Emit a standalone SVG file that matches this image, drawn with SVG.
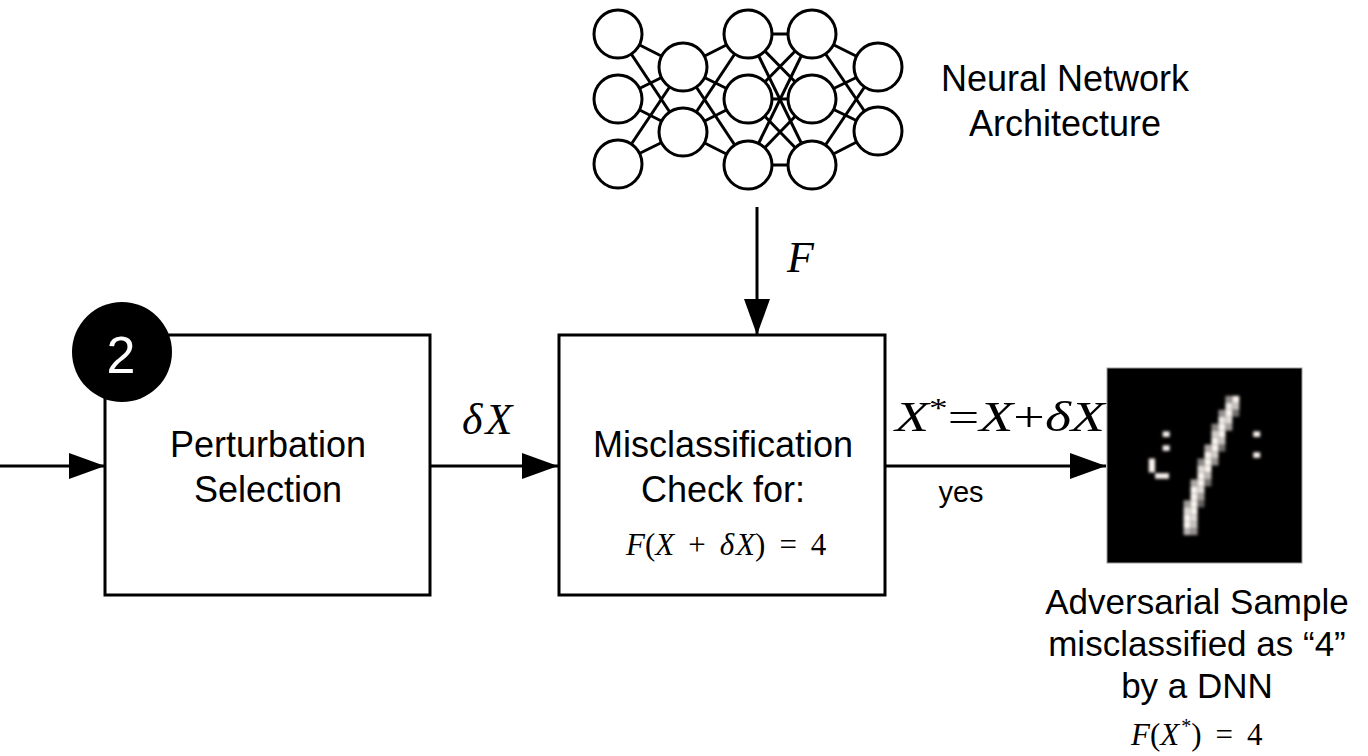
<svg xmlns="http://www.w3.org/2000/svg" width="1368" height="756" viewBox="0 0 1368 756">
  <style>
    .box { fill: #fff; stroke: #000; stroke-width: 3; }
    .neuron { fill: #fff; stroke: #000; stroke-width: 3; }
    .syn { stroke: #000; stroke-width: 3; }
    .wire { stroke: #000; stroke-width: 3; fill: none; }
    .sans { font-family: "Liberation Sans", Arial, sans-serif; fill: #000; }
    .math { font-family: "Liberation Serif", "Times New Roman", serif; fill: #000; }
    .it { font-style: italic; }
    .px { fill: #fbf4f0; }
  </style>
  <defs>
    <marker id="arrow" viewBox="0 0 36 26" refX="36" refY="13" markerWidth="36" markerHeight="26" markerUnits="userSpaceOnUse" orient="auto">
      <path d="M0,0 L36,13 L0,26 Z" fill="#000"/>
    </marker>
    <filter id="soft" x="-10%" y="-10%" width="120%" height="120%">
      <feGaussianBlur stdDeviation="0.2"/>
    </filter>
  </defs>

  <!-- Neural network architecture icon -->
  <g id="network">
    <g class="syn">
      <!-- layer 1 -> layer 2 -->
      <line x1="618" y1="34" x2="683" y2="67"/><line x1="618" y1="34" x2="683" y2="132"/>
      <line x1="618" y1="99" x2="683" y2="67"/><line x1="618" y1="99" x2="683" y2="132"/>
      <line x1="618" y1="164" x2="683" y2="67"/><line x1="618" y1="164" x2="683" y2="132"/>
      <!-- layer 2 -> layer 3 -->
      <line x1="683" y1="67" x2="748" y2="34"/><line x1="683" y1="67" x2="748" y2="99"/><line x1="683" y1="67" x2="748" y2="165"/>
      <line x1="683" y1="132" x2="748" y2="34"/><line x1="683" y1="132" x2="748" y2="99"/><line x1="683" y1="132" x2="748" y2="165"/>
      <!-- layer 3 -> layer 4 -->
      <line x1="748" y1="34" x2="812" y2="34"/><line x1="748" y1="34" x2="812" y2="99"/><line x1="748" y1="34" x2="812" y2="165"/>
      <line x1="748" y1="99" x2="812" y2="34"/><line x1="748" y1="99" x2="812" y2="99"/><line x1="748" y1="99" x2="812" y2="165"/>
      <line x1="748" y1="165" x2="812" y2="34"/><line x1="748" y1="165" x2="812" y2="99"/><line x1="748" y1="165" x2="812" y2="165"/>
      <!-- layer 4 -> layer 5 -->
      <line x1="812" y1="34" x2="878" y2="67"/><line x1="812" y1="34" x2="878" y2="131"/>
      <line x1="812" y1="99" x2="878" y2="67"/><line x1="812" y1="99" x2="878" y2="131"/>
      <line x1="812" y1="165" x2="878" y2="67"/><line x1="812" y1="165" x2="878" y2="131"/>
    </g>
    <g class="neuron">
      <circle cx="618" cy="34" r="24"/><circle cx="618" cy="99" r="24"/><circle cx="618" cy="164" r="24"/>
      <circle cx="683" cy="67" r="24"/><circle cx="683" cy="132" r="24"/>
      <circle cx="748" cy="34" r="24"/><circle cx="748" cy="99" r="24"/><circle cx="748" cy="165" r="24"/>
      <circle cx="812" cy="34" r="24"/><circle cx="812" cy="99" r="24"/><circle cx="812" cy="165" r="24"/>
      <circle cx="878" cy="67" r="24"/><circle cx="878" cy="131" r="24"/>
    </g>
    <text class="sans" font-size="36" text-anchor="middle" x="1065" y="91">Neural Network</text>
    <text class="sans" font-size="36" text-anchor="middle" x="1065" y="136">Architecture</text>
  </g>

  <!-- Connectors -->
  <g id="connectors">
    <line class="wire" x1="0" y1="466" x2="105" y2="466" marker-end="url(#arrow)"/>
    <line class="wire" x1="430" y1="466" x2="558" y2="466" marker-end="url(#arrow)"/>
    <line class="wire" x1="885" y1="466" x2="1106" y2="466" marker-end="url(#arrow)"/>
    <line class="wire" x1="757" y1="207" x2="757" y2="335" marker-end="url(#arrow)"/>
    <text class="math it" font-size="44" x="787" y="272">F</text>
    <text class="math it" font-size="44" x="462" y="434">δ<tspan dx="3">X</tspan></text>
    <text class="math" font-size="42" x="895" y="431" textLength="210" lengthAdjust="spacingAndGlyphs"><tspan class="it">X</tspan><tspan font-size="28" dy="-14">*</tspan><tspan dy="14">=</tspan><tspan class="it">X</tspan>+<tspan class="it">δX</tspan></text>
    <text class="sans" font-size="29" text-anchor="middle" x="961" y="502">yes</text>
  </g>

  <!-- Step 2: perturbation selection -->
  <g id="perturbation">
    <rect class="box" x="105" y="335" width="325" height="260"/>
    <text class="sans" font-size="36" text-anchor="middle" x="268" y="457">Perturbation</text>
    <text class="sans" font-size="36" text-anchor="middle" x="268" y="502">Selection</text>
  </g>
  <g id="step-badge">
    <circle cx="122" cy="352" r="50" fill="#000"/>
    <text class="sans" font-size="52" text-anchor="middle" x="121" y="373" style="fill:#fff">2</text>
  </g>

  <!-- Misclassification check -->
  <g id="check">
    <rect class="box" x="559" y="335" width="326" height="260"/>
    <text class="sans" font-size="36" text-anchor="middle" x="723" y="457">Misclassification</text>
    <text class="sans" font-size="36" text-anchor="middle" x="723" y="502">Check for:</text>
    <text class="math" font-size="31" x="626" y="555"><tspan class="it">F</tspan>(<tspan class="it">X</tspan><tspan dx="14">+</tspan><tspan class="it" dx="14">δ</tspan><tspan class="it" dx="2">X</tspan>)<tspan dx="14">=</tspan><tspan dx="14">4</tspan></text>
  </g>

  <!-- Adversarial sample: 28x28 digit image -->
  <g id="sample">
    <rect x="1107" y="368" width="195" height="195" fill="#000" stroke="#9a9a9a" stroke-width="1"/>
    <g transform="translate(1107,368) scale(6.964)" filter="url(#soft)">
      <!-- stroke of the digit -->
      <rect class="px" x="17" y="4" width="1" height="1" opacity="0.6"/><rect class="px" x="18" y="4" width="1" height="1" opacity="1"/>
      <rect class="px" x="17" y="5" width="1" height="1" opacity="0.95"/><rect class="px" x="18" y="5" width="1" height="1" opacity="0.8"/>
      <rect class="px" x="16" y="6" width="1" height="1" opacity="0.6"/><rect class="px" x="17" y="6" width="1" height="1" opacity="1"/><rect class="px" x="18" y="6" width="1" height="1" opacity="0.45"/>
      <rect class="px" x="16" y="7" width="1" height="1" opacity="0.95"/><rect class="px" x="17" y="7" width="1" height="1" opacity="0.9"/>
      <rect class="px" x="15" y="8" width="1" height="1" opacity="0.55"/><rect class="px" x="16" y="8" width="1" height="1" opacity="1"/><rect class="px" x="17" y="8" width="1" height="1" opacity="0.65"/>
      <rect class="px" x="15" y="9" width="1" height="1" opacity="0.85"/><rect class="px" x="16" y="9" width="1" height="1" opacity="1"/>
      <rect class="px" x="15" y="10" width="1" height="1" opacity="1"/><rect class="px" x="16" y="10" width="1" height="1" opacity="0.8"/>
      <rect class="px" x="14" y="11" width="1" height="1" opacity="0.7"/><rect class="px" x="15" y="11" width="1" height="1" opacity="1"/><rect class="px" x="16" y="11" width="1" height="1" opacity="0.45"/>
      <rect class="px" x="14" y="12" width="1" height="1" opacity="1"/><rect class="px" x="15" y="12" width="1" height="1" opacity="0.85"/>
      <rect class="px" x="13" y="13" width="1" height="1" opacity="0.55"/><rect class="px" x="14" y="13" width="1" height="1" opacity="1"/><rect class="px" x="15" y="13" width="1" height="1" opacity="0.6"/>
      <rect class="px" x="13" y="14" width="1" height="1" opacity="0.9"/><rect class="px" x="14" y="14" width="1" height="1" opacity="1"/>
      <rect class="px" x="13" y="15" width="1" height="1" opacity="1"/><rect class="px" x="14" y="15" width="1" height="1" opacity="0.75"/>
      <rect class="px" x="12" y="16" width="1" height="1" opacity="0.7"/><rect class="px" x="13" y="16" width="1" height="1" opacity="1"/><rect class="px" x="14" y="16" width="1" height="1" opacity="0.45"/>
      <rect class="px" x="12" y="17" width="1" height="1" opacity="1"/><rect class="px" x="13" y="17" width="1" height="1" opacity="0.9"/>
      <rect class="px" x="12" y="18" width="1" height="1" opacity="1"/><rect class="px" x="13" y="18" width="1" height="1" opacity="0.65"/>
      <rect class="px" x="11" y="19" width="1" height="1" opacity="0.65"/><rect class="px" x="12" y="19" width="1" height="1" opacity="1"/><rect class="px" x="13" y="19" width="1" height="1" opacity="0.4"/>
      <rect class="px" x="11" y="20" width="1" height="1" opacity="0.9"/><rect class="px" x="12" y="20" width="1" height="1" opacity="1"/>
      <rect class="px" x="11" y="21" width="1" height="1" opacity="1"/><rect class="px" x="12" y="21" width="1" height="1" opacity="0.9"/>
      <rect class="px" x="11" y="22" width="1" height="1" opacity="1"/><rect class="px" x="12" y="22" width="1" height="1" opacity="0.8"/>
      <rect class="px" x="11" y="23" width="1" height="1" opacity="0.75"/><rect class="px" x="12" y="23" width="1" height="1" opacity="0.6"/>
      <!-- perturbed pixels -->
      <rect class="px" x="8" y="9.1" width="1" height="0.8"/>
      <rect class="px" x="8" y="11.1" width="1" height="0.8"/>
      <rect class="px" x="6" y="13" width="0.9" height="2"/>
      <rect class="px" x="6.9" y="15.1" width="2" height="0.8"/>
      <rect class="px" x="21" y="9.1" width="1" height="0.8"/>
      <rect class="px" x="21" y="12.1" width="1" height="0.8"/>
    </g>
    <text class="sans" font-size="35" text-anchor="middle" x="1197" y="614">Adversarial Sample</text>
    <text class="sans" font-size="35" text-anchor="middle" x="1197" y="656">misclassified as “4”</text>
    <text class="sans" font-size="35" text-anchor="middle" x="1197" y="698">by a DNN</text>
    <text class="math" font-size="31" x="1131" y="745"><tspan class="it">F</tspan>(<tspan class="it">X</tspan><tspan font-size="20" dy="-12" dx="2">*</tspan><tspan dy="12">)</tspan><tspan dx="14">=</tspan><tspan dx="14">4</tspan></text>
  </g>
</svg>
